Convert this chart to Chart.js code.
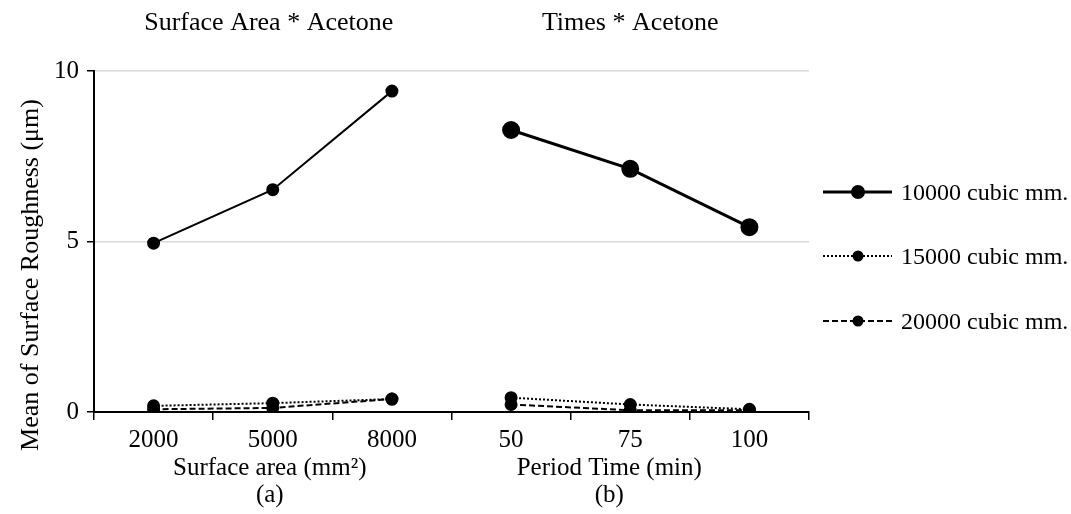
<!DOCTYPE html>
<html>
<head>
<meta charset="utf-8">
<script src="https://cdn.jsdelivr.net/npm/chart.js@4.4.1/dist/chart.umd.min.js"></script>
<style>
  html, body { margin: 0; padding: 0; background: #fff; }
  #wrap { position: relative; width: 1071px; height: 514px; }
  #legend { position: absolute; left: 820px; top: 0; font-family: "Liberation Serif", serif; font-size: 24px; color: #000; }
  .item { position: absolute; left: 0; width: 260px; height: 30px; display: flex; align-items: center; white-space: nowrap; }
  .item svg { margin-right: 7px; }
</style>
</head>
<body>
<div id="wrap">
  <canvas id="myChart" width="1071" height="514"></canvas>
  <div id="legend"></div>
</div>
<script>
// categories of the two panels, shared y axis
const categories = ["2000", "5000", "8000", "50", "75", "100"];
const panelTitles = ["Surface Area * Acetone", "Times * Acetone"];
const axisTitles = ["Surface area (mm²)", "Period Time (min)"];
const panelLetters = ["(a)", "(b)"];
const yTitle = "Mean of Surface Roughness (μm)";
const yTicks = [0, 5, 10];

const seriesNames = ["10000 cubic mm.", "15000 cubic mm.", "20000 cubic mm."];
const vol10000 = [4.95, 6.52, 9.41, 8.27, 7.13, 5.42];
const vol15000 = [0.18, 0.26, 0.38, 0.42, 0.22, 0.08];
const vol20000 = [0.08, 0.12, 0.38, 0.22, 0.05, 0.05];

const FONT = "Liberation Serif";

// split a series into left panel / right panel so lines don't join across
const leftPart = (arr) => arr.map((v, i) => (i < 3 ? v : null));
const rightPart = (arr) => arr.map((v, i) => (i >= 3 ? v : null));

const styles = [
  { dash: [], width: [2, 3], radius: [5.5, 7.5] },
  { dash: [2, 2], width: [2, 2], radius: [5.5, 5.5] },
  { dash: [6, 3], width: [2, 2], radius: [5.5, 5.5] },
];
const allSeries = [vol10000, vol15000, vol20000];

const datasets = [];
allSeries.forEach((s, k) => {
  [leftPart(s), rightPart(s)].forEach((d, p) => {
    datasets.push({
      label: seriesNames[k],
      data: d,
      borderColor: "#000",
      backgroundColor: "#000",
      pointBackgroundColor: "#000",
      pointBorderColor: "#000",
      borderWidth: styles[k].width[p],
      borderDash: styles[k].dash,
      pointRadius: styles[k].radius[p],
      pointHoverRadius: styles[k].radius[p],
      spanGaps: false,
      tension: 0,
      fill: false,
    });
  });
});

const textPlugin = {
  id: "panelText",
  afterDraw(chart) {
    const ctx = chart.ctx;
    const x = chart.scales.x;
    ctx.save();
    ctx.fillStyle = "#000";
    ctx.textAlign = "center";
    ctx.textBaseline = "middle";
    const centers = [x.getPixelForValue(1), x.getPixelForValue(4)];
    const shift = [-3, -21];
    ctx.font = "26px '" + FONT + "'";
    panelTitles.forEach((t, i) => ctx.fillText(t, centers[i] - (i ? 0 : 4), 23));
    ctx.font = "25px '" + FONT + "'";
    axisTitles.forEach((t, i) => ctx.fillText(t, centers[i] + shift[i], 468));
    panelLetters.forEach((t, i) => ctx.fillText(t, centers[i] + shift[i], 495));
    // y title
    ctx.font = "26px '" + FONT + "'";
    ctx.translate(31, 275);
    ctx.rotate(-Math.PI / 2);
    ctx.fillText(yTitle, 0, 0);
    ctx.restore();
  },
};

const ctx = document.getElementById("myChart").getContext("2d");
const myChart = new Chart(ctx, {
  type: "line",
  data: { labels: categories, datasets: datasets },
  plugins: [textPlugin],
  options: {
    responsive: false,
    animation: false,
    layout: { padding: { left: 0, top: 71, right: 262, bottom: 0 } },
    plugins: { legend: { display: false }, tooltip: { enabled: false } },
    scales: {
      x: {
        offset: true,
        afterFit: (s) => { s.height = 102; },
        grid: { drawOnChartArea: false, offset: true, tickColor: "#000", tickLength: 8, lineWidth: 1.5 },
        border: { color: "#000", width: 2 },
        ticks: { color: "#000", font: { family: FONT, size: 25 }, padding: 5, maxRotation: 0 },
      },
      y: {
        min: 0,
        max: 10,
        afterFit: (s) => { s.width = 94; },
        afterBuildTicks: (s) => { s.ticks = yTicks.map((v) => ({ value: v })); },
        grid: {
          color: (c) => (c.tick && c.tick.value === 0 ? "rgba(0,0,0,0)" : "#d9d9d9"),
          lineWidth: 1.5,
          tickColor: "#000",
          tickLength: 7,
        },
        border: { color: "#000", width: 2 },
        ticks: { color: "#000", font: { family: FONT, size: 25 }, padding: 8 },
      },
    },
  },
});

// legend with line + marker symbols
const legendTop = [192, 256, 321];
const legendEl = document.getElementById("legend");
seriesNames.forEach((name, k) => {
  const item = document.createElement("div");
  item.className = "item";
  item.style.top = legendTop[k] - 15 + "px";
  const dash = styles[k].dash.length ? styles[k].dash.join(",") : "none";
  const r = k === 0 ? 7 : 5.5;
  const w = k === 0 ? 3 : styles[k].width[0];
  item.innerHTML =
    '<svg width="74" height="20"><line x1="3" y1="10" x2="72" y2="10" stroke="#000" stroke-width="' + w +
    '" stroke-dasharray="' + dash + '"/><circle cx="38" cy="10" r="' + r + '" fill="#000"/></svg>' +
    "<span>" + name + "</span>";
  legendEl.appendChild(item);
});
</script>
</body>
</html>
